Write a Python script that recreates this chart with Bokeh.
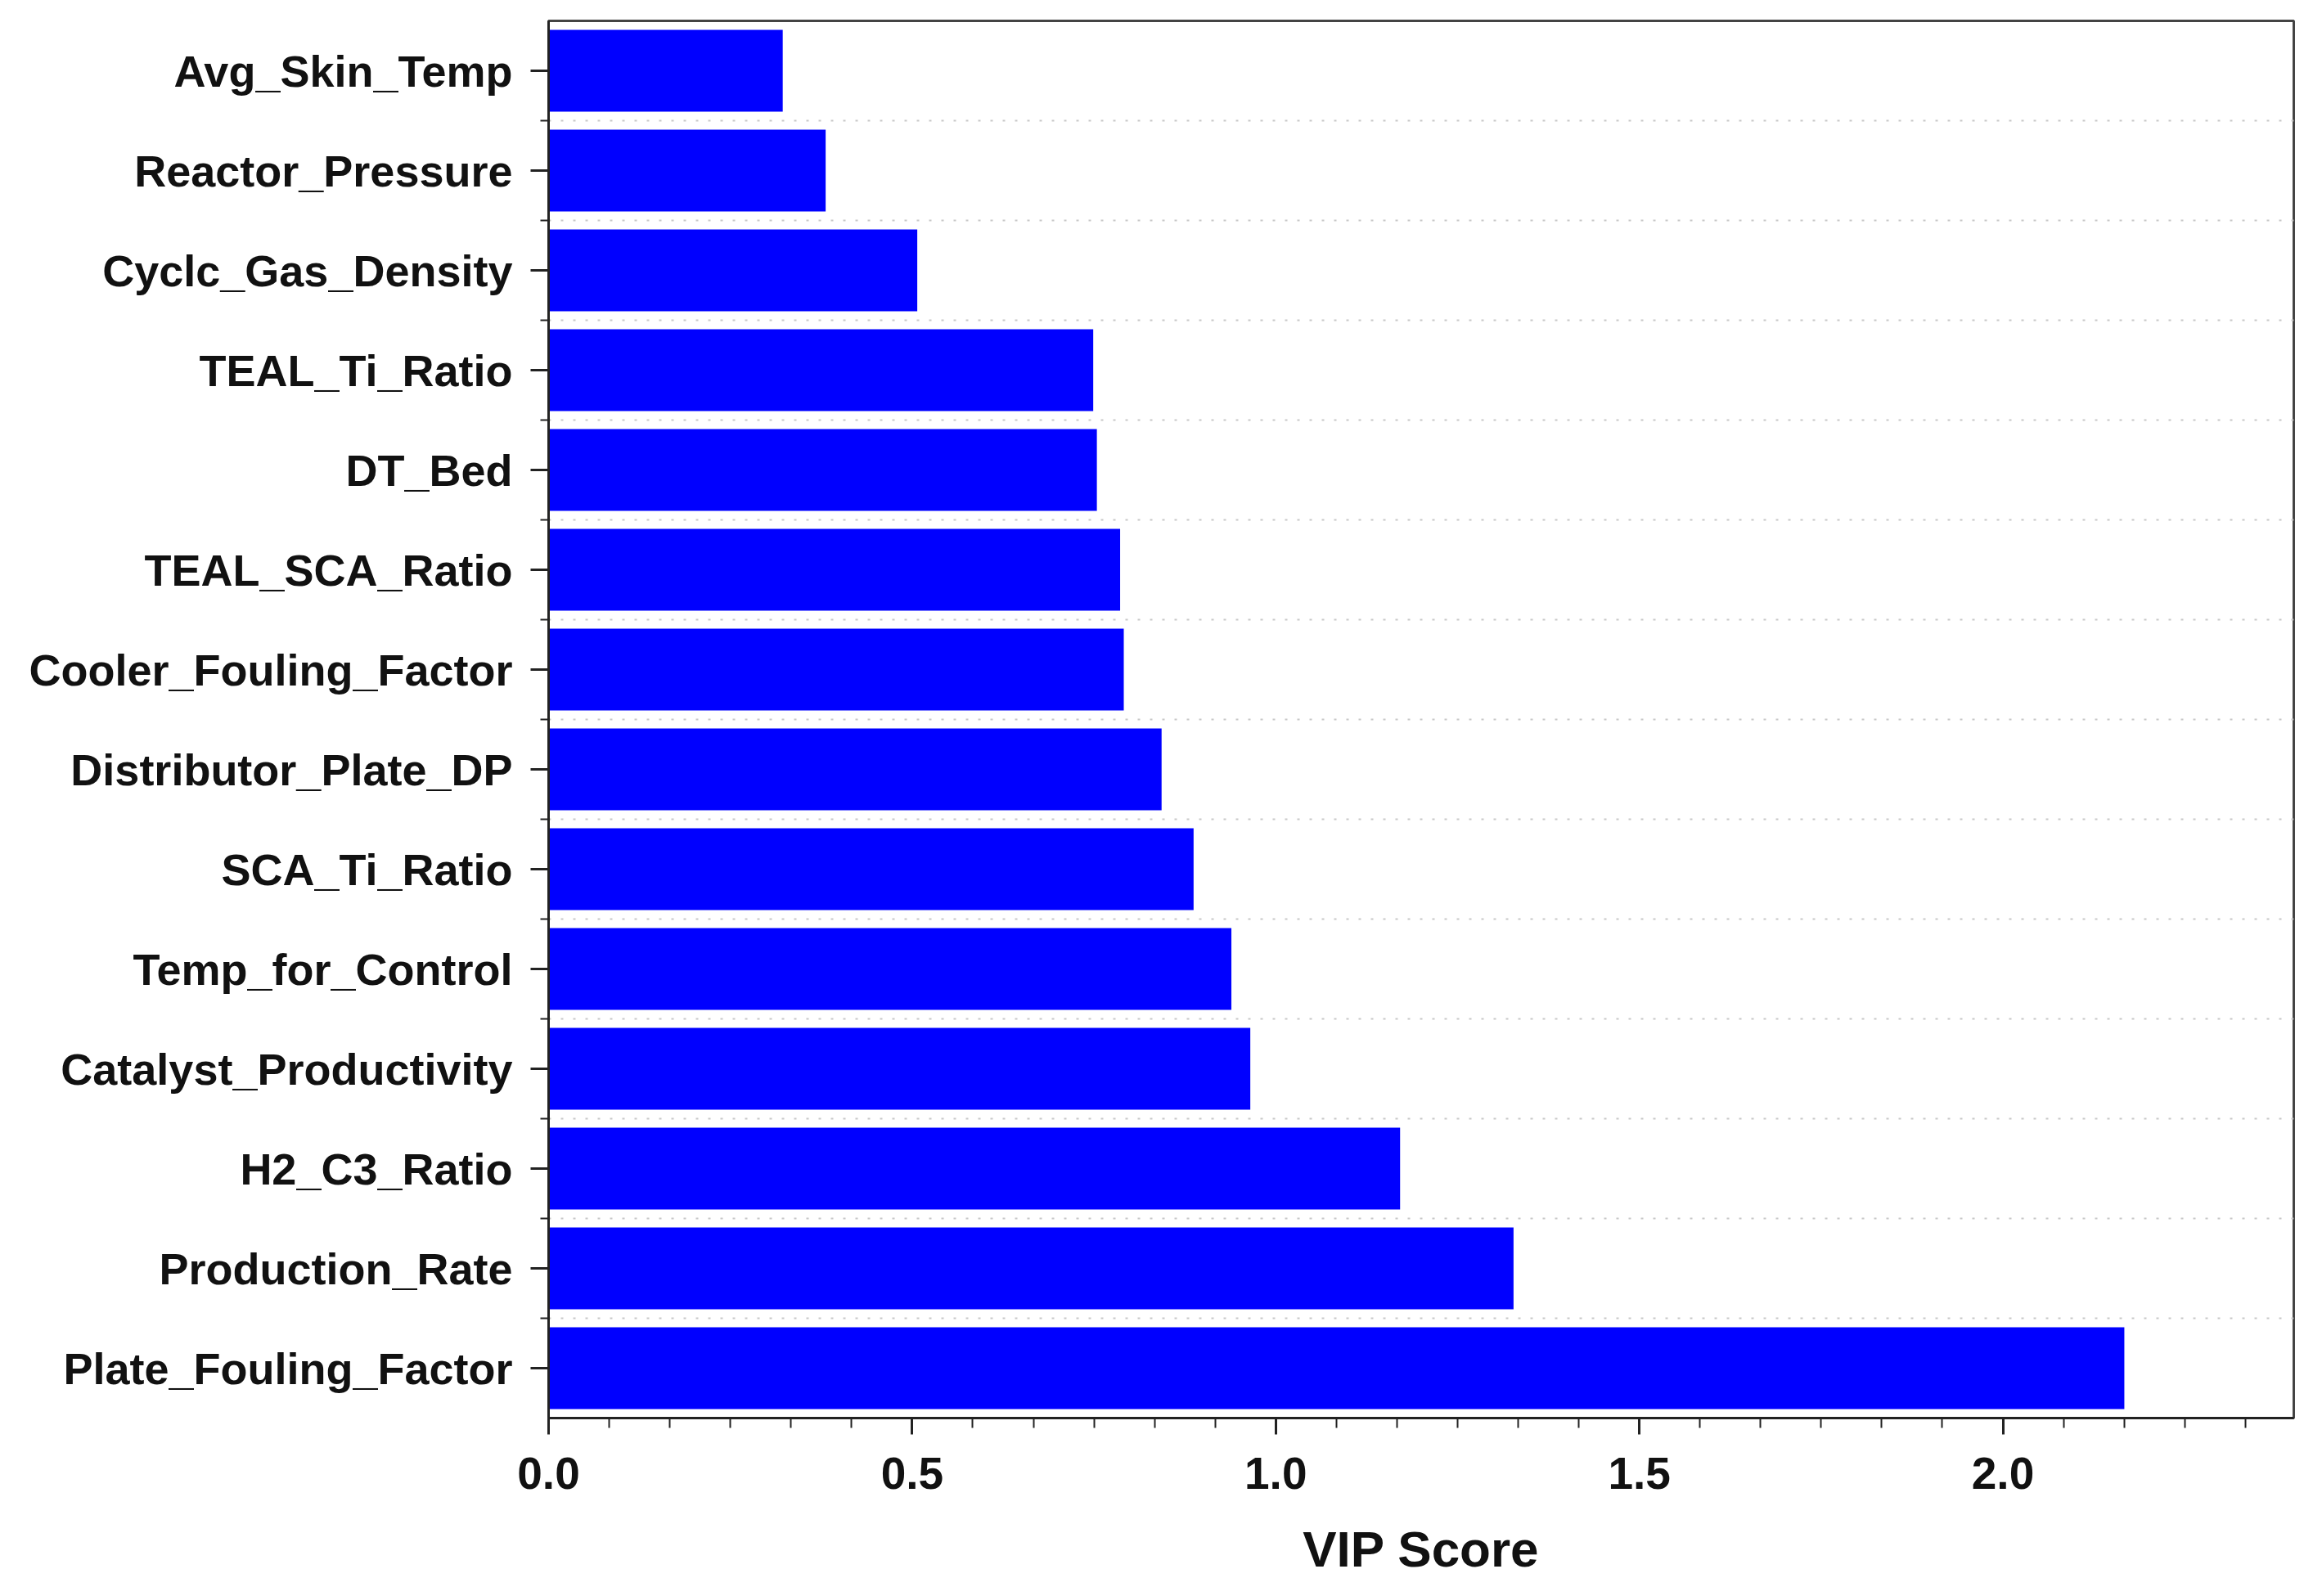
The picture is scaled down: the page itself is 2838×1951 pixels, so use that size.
from bokeh.plotting import figure
from bokeh.models import Range1d, FixedTicker, SingleIntervalTicker, PrintfTickFormatter
from bokeh.embed import file_html
from bokeh.resources import INLINE

# Data (top to bottom as drawn)
features = [
    "Avg_Skin_Temp",
    "Reactor_Pressure",
    "Cyclc_Gas_Density",
    "TEAL_Ti_Ratio",
    "DT_Bed",
    "TEAL_SCA_Ratio",
    "Cooler_Fouling_Factor",
    "Distributor_Plate_DP",
    "SCA_Ti_Ratio",
    "Temp_for_Control",
    "Catalyst_Productivity",
    "H2_C3_Ratio",
    "Production_Rate",
    "Plate_Fouling_Factor",
]
vip_scores = [0.322, 0.381, 0.507, 0.749, 0.754, 0.786, 0.791,
              0.843, 0.887, 0.939, 0.965, 1.171, 1.327, 2.167]
x_axis_title = "VIP Score"

n = len(features)
ypos = [n - i - 0.5 for i in range(n)]
boundaries = [float(k) for k in range(1, n)]

FONT = "Liberation Sans"

p = figure(width=2820, height=1935, output_backend="svg", toolbar_location=None,
           x_range=Range1d(0, 2.4), y_range=Range1d(0, n),
           min_border_left=670, min_border_right=17,
           min_border_top=25, min_border_bottom=202)

p.hbar(y=ypos, left=0, right=vip_scores, height=0.82,
       fill_color="#0000FF", line_color=None)

# X axis
p.xaxis.ticker = SingleIntervalTicker(interval=0.5, num_minor_ticks=6)
p.xaxis.formatter = PrintfTickFormatter(format="%.1f")
p.xaxis.axis_label = x_axis_title
p.xaxis.axis_label_text_font = FONT
p.xaxis.axis_label_text_font_style = "bold"
p.xaxis.axis_label_text_font_size = "62px"
p.xaxis.axis_label_text_color = "#111111"
p.xaxis.axis_label_standoff = 36
p.xaxis.major_label_text_font = FONT
p.xaxis.major_label_text_font_style = "bold"
p.xaxis.major_label_text_font_size = "55px"
p.xaxis.major_label_text_color = "#111111"
p.xaxis.major_label_standoff = 28
p.xaxis.major_tick_out = 20
p.xaxis.major_tick_in = 0
p.xaxis.minor_tick_out = 12
p.xaxis.minor_tick_in = 0
p.xaxis.major_tick_line_width = 3
p.xaxis.minor_tick_line_width = 2
p.xaxis.axis_line_width = 3
p.xaxis.axis_line_color = "#222222"
p.xaxis.major_tick_line_color = "#222222"
p.xaxis.minor_tick_line_color = "#222222"

# Y axis
p.yaxis.ticker = FixedTicker(ticks=ypos, minor_ticks=boundaries)
p.yaxis.major_label_overrides = {y: name for y, name in zip(ypos, features)}
p.yaxis.major_label_text_font = FONT
p.yaxis.major_label_text_font_style = "bold"
p.yaxis.major_label_text_font_size = "54px"
p.yaxis.major_label_text_color = "#111111"
p.yaxis.major_label_standoff = 22
p.yaxis.major_tick_out = 22
p.yaxis.major_tick_in = 0
p.yaxis.minor_tick_out = 10
p.yaxis.minor_tick_in = 0
p.yaxis.major_tick_line_width = 3
p.yaxis.minor_tick_line_width = 2
p.yaxis.axis_line_width = 3
p.yaxis.axis_line_color = "#222222"
p.yaxis.major_tick_line_color = "#222222"
p.yaxis.minor_tick_line_color = "#222222"

# Grid
p.xgrid.visible = False
p.ygrid.grid_line_color = None
p.ygrid.minor_grid_line_color = "#c8c8c8"
p.ygrid.minor_grid_line_dash = "3 12"
p.ygrid.minor_grid_line_width = 2

p.outline_line_color = "#444444"
p.outline_line_width = 3
p.background_fill_color = "white"
p.border_fill_color = "white"

open("out.html", "w").write(file_html(p, INLINE))
